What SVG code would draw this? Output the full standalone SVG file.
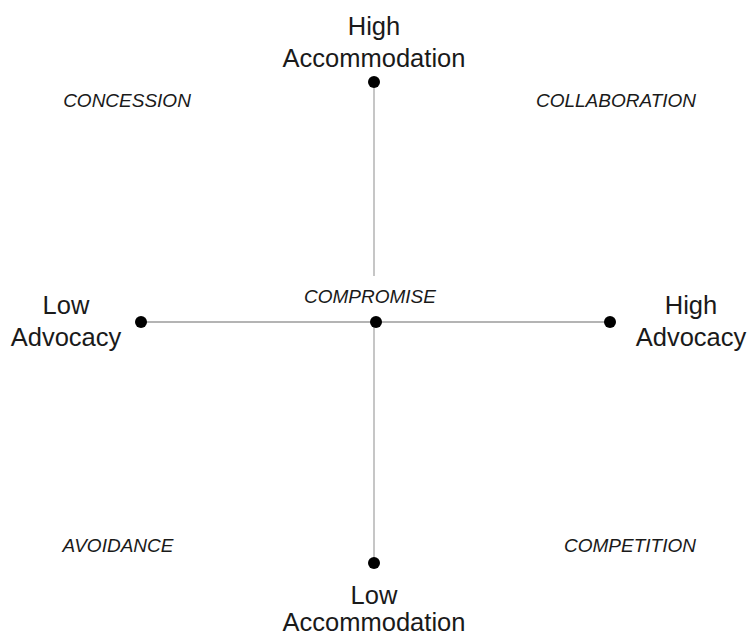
<svg xmlns="http://www.w3.org/2000/svg" width="749" height="638" viewBox="0 0 749 638">
<style>
.lbl{font-family:"Liberation Sans",Arial,sans-serif;font-size:25.5px;fill:#1a1a1a;text-anchor:middle}
.q{font-family:"Liberation Sans",Arial,sans-serif;font-size:19px;font-style:italic;fill:#1a1a1a;text-anchor:middle}
.dot{fill:#000}
</style>
<rect width="749" height="638" fill="#fff"/>
<g id="connectors">
<line x1="140" y1="322" x2="610" y2="322" stroke="#b4b4b4" stroke-width="2"/>
<line x1="374" y1="82" x2="374" y2="276" stroke="#a0a0a0" stroke-width="1.2"/>
<line x1="374" y1="322" x2="374" y2="563" stroke="#a0a0a0" stroke-width="1.2"/>
</g>
<g id="high-accommodation">
<circle class="dot" cx="374" cy="82" r="6"/>
<text class="lbl" x="374" y="35">High</text>
<text class="lbl" x="374" y="67">Accommodation</text>
</g>
<g id="low-advocacy">
<circle class="dot" cx="141" cy="322" r="6"/>
<text class="lbl" x="66" y="314">Low</text>
<text class="lbl" x="66" y="346">Advocacy</text>
</g>
<g id="compromise">
<circle class="dot" cx="376" cy="322" r="6"/>
<text class="q" x="370" y="303">COMPROMISE</text>
</g>
<g id="high-advocacy">
<circle class="dot" cx="610" cy="322" r="6"/>
<text class="lbl" x="691" y="314">High</text>
<text class="lbl" x="691" y="346">Advocacy</text>
</g>
<g id="low-accommodation">
<circle class="dot" cx="374" cy="563" r="6"/>
<text class="lbl" x="374" y="604">Low</text>
<text class="lbl" x="374" y="631">Accommodation</text>
</g>
<g id="concession"><text class="q" x="127" y="107">CONCESSION</text></g>
<g id="collaboration"><text class="q" x="616" y="107">COLLABORATION</text></g>
<g id="avoidance"><text class="q" x="118" y="552">AVOIDANCE</text></g>
<g id="competition"><text class="q" x="630" y="552">COMPETITION</text></g>
</svg>
